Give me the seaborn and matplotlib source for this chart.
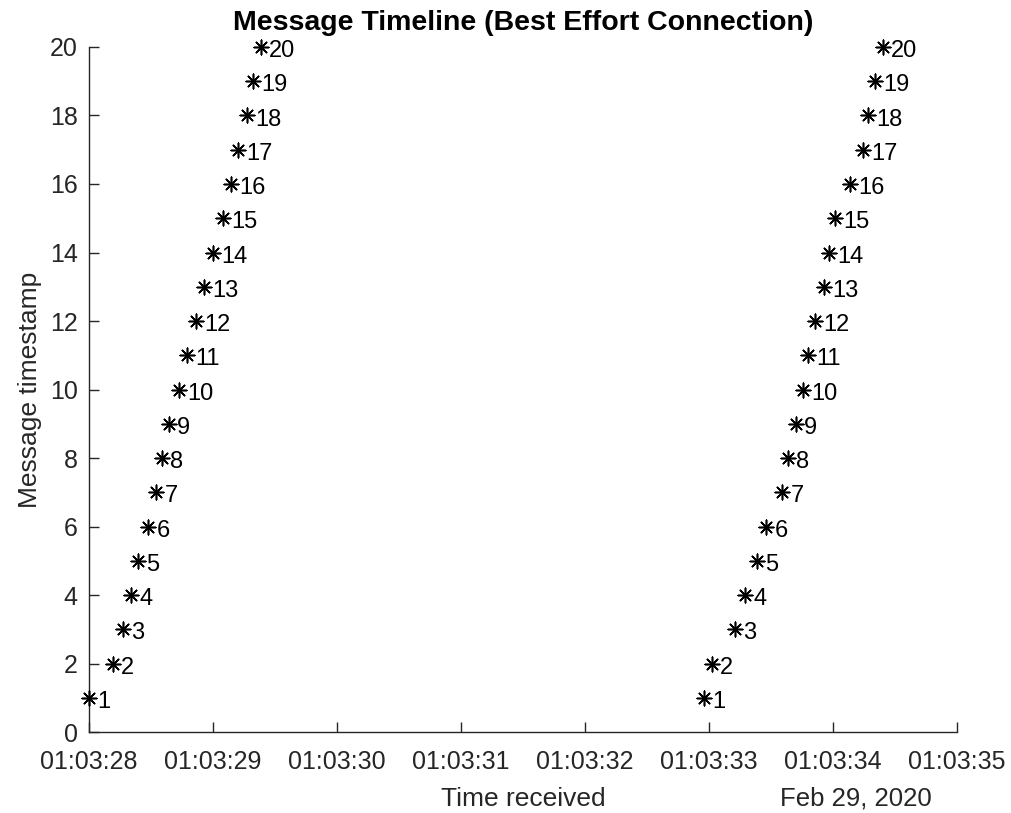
import numpy as np
import pandas as pd
import matplotlib
matplotlib.use('Agg')
import matplotlib.pyplot as plt
import matplotlib.dates as mdates
import seaborn as sns

sns.set_style('white')
plt.rcParams['font.family'] = ['Liberation Sans', 'DejaVu Sans']

# Dados: segundos depois de 01:03:28
inicio = pd.Timestamp('2020-02-29 01:03:28')
msg_ids = list(range(1, 21))
tempo_rodada1 = [0.000, 0.194, 0.274, 0.339, 0.395, 0.476, 0.540, 0.589, 0.645, 0.726,
                 0.790, 0.863, 0.927, 1.000, 1.081, 1.145, 1.202, 1.274, 1.323, 1.387]
tempo_rodada2 = [4.960, 5.024, 5.210, 5.290, 5.387, 5.460, 5.589, 5.637, 5.702, 5.758,
                 5.798, 5.855, 5.927, 5.968, 6.016, 6.137, 6.242, 6.282, 6.339, 6.403]
xticks_seg = [0, 1, 2, 3, 4, 5, 6, 7]

df = pd.DataFrame({
    'id': msg_ids * 2,
    'seg': tempo_rodada1 + tempo_rodada2,
})
df['recebido'] = inicio + pd.to_timedelta(df['seg'], unit='s')

cinza = '#262626'
fig = plt.figure(figsize=(10.11, 8.13), dpi=100)
ax = fig.add_axes([0.088, 0.0996, 0.8585, 0.8426])

sns.scatterplot(data=df, x='recebido', y='id', marker=(8, 2, 0), color='black',
                s=110, linewidth=1.15, ax=ax, legend=False, clip_on=False, zorder=3)

# rótulos de cada mensagem
for _, r in df.iterrows():
    ax.annotate(str(r['id']), xy=(r['recebido'], r['id']), xytext=(6, -3),
                textcoords='offset points', va='center', ha='left',
                fontsize=17, color='black')

ax.set_xlim(inicio, inicio + pd.Timedelta(seconds=7))
ax.set_ylim(0, 20)
ax.set_yticks(range(0, 21, 2))
ax.set_xticks([inicio + pd.Timedelta(seconds=s) for s in xticks_seg])
ax.xaxis.set_major_formatter(mdates.DateFormatter('%H:%M:%S'))

sns.despine(ax=ax)
for lado in ['left', 'bottom']:
    ax.spines[lado].set_color(cinza)
    ax.spines[lado].set_linewidth(1.0)
ax.tick_params(direction='in', length=7, width=1.0, colors=cinza, labelsize=18,
               bottom=True, left=True)
ax.tick_params(axis='x', pad=13)
ax.tick_params(axis='y', pad=8)

ax.set_title('Message Timeline (Best Effort Connection)', fontsize=20.5, fontweight='bold',
             pad=12, color='black')
ax.set_xlabel('Time received', fontsize=19, color=cinza, labelpad=9)
ax.set_ylabel('Message timestamp', fontsize=19, color=cinza, labelpad=6)
ax.text(0.884, -0.0975, 'Feb 29, 2020', transform=ax.transAxes, ha='center', va='center',
        fontsize=18.5, color=cinza)

fig.savefig('out.png', dpi=100)
